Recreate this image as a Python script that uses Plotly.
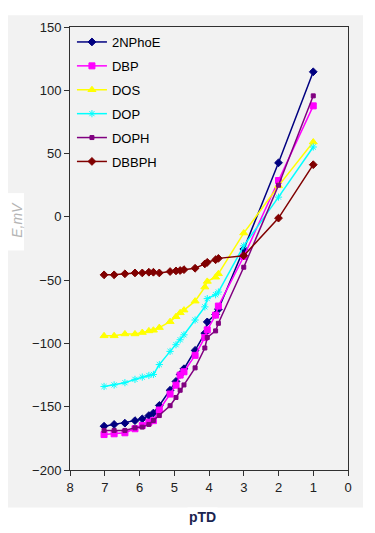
import plotly.graph_objects as go

ptd = [7.02, 6.73, 6.42, 6.13, 5.92, 5.73, 5.60, 5.43, 5.12, 4.95, 4.83, 4.72,
       4.40, 4.12, 4.05, 3.81, 3.73, 3.0, 2.0, 1.0]

s_2nphoe = [-165.4, -164, -163, -161, -159.6, -157, -155, -149, -137, -130, -124.5, -120,
            -105.5, -92, -83, -77, -73, -25.5, 42.7, 114.6]
s_dbp = [-172, -171.4, -170.6, -167.4, -164.8, -162.3, -161, -152.6, -140, -133, -125, -122.4,
         -109.4, -95.3, -89.3, -77.6, -70.5, -31.3, 28.7, 87.7]
s_dos = [-94, -94, -92.5, -92.5, -91.4, -90.1, -89.6, -87.5, -82.8, -78.9, -75.8, -73.7,
         -66.6, -55.5, -51, -47.7, -45, -12.8, 24.5, 59.1]
s_dop = [-134, -132.8, -131, -128.4, -126.6, -125.3, -124.5, -116.7, -106.3, -101, -97.1, -93.2,
         -81.5, -71.1, -64.6, -61.5, -59.4, -22.9, 15.6, 55.2]
s_doph = [-168.75, -168.75, -168.75, -166.7, -166.1, -164, -160.9, -157, -149.2, -142.7, -137, -132.8,
          -119.3, -103.6, -95.3, -90.1, -84.1, -39.8, 25, 95.6]
s_dbbph = [-45.8, -45.8, -45, -44.3, -44.3, -43.75, -43.75, -44.3, -43.2, -42.7, -42.4, -41.7,
           -40.6, -37.2, -35.9, -33.9, -32.8, -30.7, -1, 41.2]

names = ["2NPhoE", "DBP", "DOS", "DOP", "DOPH", "DBBPH"]
series = [s_2nphoe, s_dbp, s_dos, s_dop, s_doph, s_dbbph]
colors = ["#000080", "#ff00ff", "#ffff00", "#00ffff", "#800080", "#800000"]
symbols = ["diamond", "square", "triangle-up", "asterisk-open", "square", "diamond"]
msizes = [6, 6, 7, 6, 4, 6]

fig = go.Figure()
for n, s, c, sym, ms in zip(names, series, colors, symbols, msizes):
    fig.add_trace(go.Scatter(
        x=ptd, y=s, name=n, mode="lines+markers", legendgroup=n,
        line=dict(color=c, width=1.5),
        marker=dict(symbol=sym, size=ms, color=c, line=dict(color=c, width=1)),
    ))

# plot area on screen: x 70..348, y 22..470 (page has 8px body margin)
PW, PH = 278.0, 448.0


def px(x):
    return (x - 70) / PW


def py(y):
    return (470 - y) / PH


fig.add_shape(type="rect", xref="paper", yref="paper",
              x0=px(5), x1=px(363), y0=py(508), y1=py(10),
              fillcolor="#f2f2f2", line=dict(width=0), layer="below")
fig.add_shape(type="rect", xref="paper", yref="paper",
              x0=px(8), x1=px(24), y0=py(248), y1=py(190),
              fillcolor="#ffffff", line=dict(width=0), layer="below")

fig.add_annotation(xref="paper", yref="paper", x=px(17), y=py(217),
                   xanchor="center", yanchor="middle",
                   text="<i>E,mV</i>", textangle=-90, showarrow=False,
                   font=dict(family="Liberation Sans, Arial", size=14, color="#b4b4b4"))
fig.add_annotation(xref="paper", yref="paper", x=px(202), y=py(518),
                   xanchor="center", yanchor="middle",
                   text="<b>pTD</b>", showarrow=False,
                   font=dict(family="Liberation Sans, Arial", size=14, color="#1a2450"),
                   bgcolor="#ffffff")

axis_common = dict(showgrid=False, zeroline=False, showline=True, linecolor="#303030",
                   linewidth=1, mirror=True, ticks="outside", ticklen=5, tickcolor="#303030",
                   tickfont=dict(family="Liberation Sans, Arial", size=13, color="#202020"))

fig.update_xaxes(range=[8, 0], dtick=1, tick0=0, **axis_common)
fig.update_yaxes(range=[-200, 150], dtick=50, tick0=0, **axis_common)

fig.update_layout(
    width=367, height=525,
    margin=dict(l=62, r=27, t=14, b=63),
    paper_bgcolor="#ffffff", plot_bgcolor="#f2f2f2",
    showlegend=True,
    legend=dict(x=0.007, y=1.0, xanchor="left", yanchor="top",
                bgcolor="rgba(0,0,0,0)", tracegroupgap=4,
                font=dict(family="Liberation Sans, Arial", size=13, color="#000000")),
)

fig.write_html("out.html")
